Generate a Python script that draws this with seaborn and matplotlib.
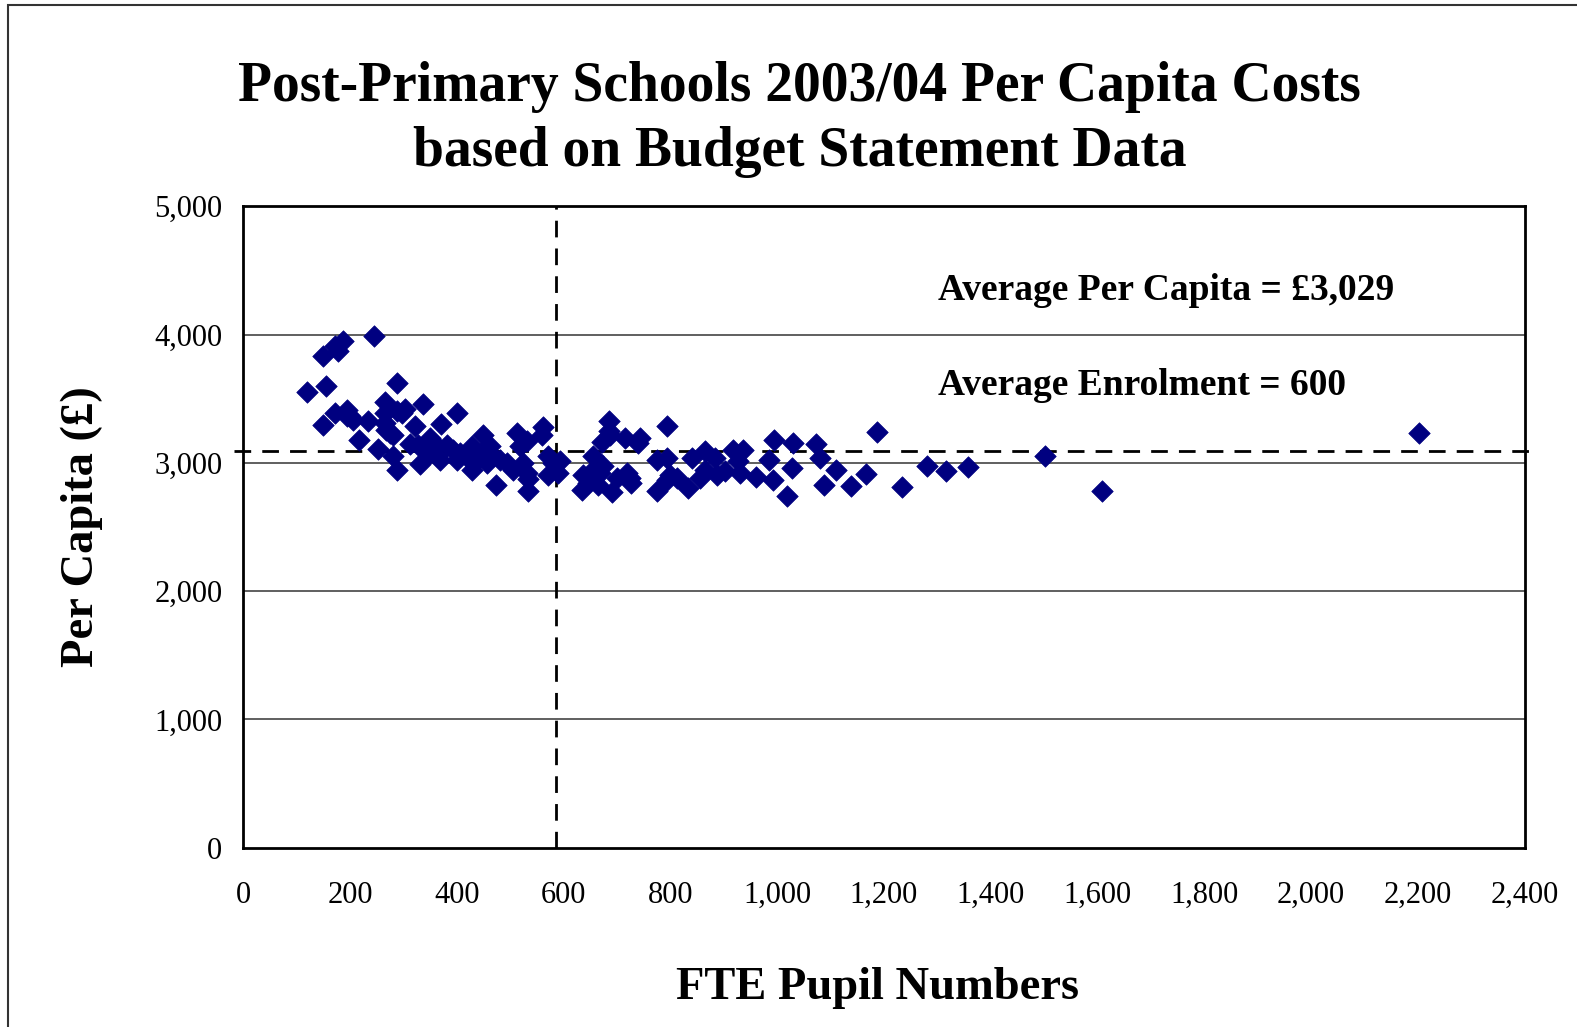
"""Post-primary schools per capita cost scatter, redrawn with seaborn."""

import matplotlib

matplotlib.use("Agg")
import matplotlib.pyplot as plt
import pandas as pd
import seaborn as sns
from matplotlib.patches import Rectangle
from matplotlib.ticker import FuncFormatter, MultipleLocator

# FTE pupil numbers and per capita cost (GBP) per school
pupils = [
    119, 150, 154, 150, 172, 178, 187, 245, 172, 194, 200, 206, 194, 217,
    234, 253, 265, 265, 265, 268, 275, 281, 281, 287, 287, 287, 297, 303,
    321, 336, 312, 328, 331, 350, 356, 362, 371, 350, 362, 368, 381, 393,
    400, 401, 406, 418, 428, 428, 437, 449, 446, 456, 462, 468, 474, 481,
    493, 506, 512, 518, 531, 524, 531, 534, 533, 559, 562, 571, 580, 571,
    590, 593, 684, 684, 687, 671, 715, 743, 740, 793, 655, 637, 649, 655,
    668, 674, 646, 665, 634, 690, 699, 718, 724, 727, 774, 793, 799, 793,
    812, 774, 832, 840, 865, 883, 865, 855, 887, 902, 918, 936, 927, 930,
    961, 985, 993, 994, 1018, 1030, 1028, 1073, 1080, 1088, 1111, 1138,
    1166, 1186, 1233, 1280, 1317, 1358, 1501, 1609, 2202,
]
per_capita = [
    3550, 3831, 3597, 3298, 3909, 3870, 3948, 3992, 3389, 3415, 3363, 3337,
    3363, 3176, 3324, 3108, 3472, 3389, 3311, 3259, 3233, 3220, 3051, 2941,
    3623, 3402, 3389, 3420, 3285, 3462, 3150, 3142, 2994, 3194, 3155, 3129,
    3306, 3077, 3051, 3025, 3142, 3103, 3025, 3389, 3077, 3051, 3129, 2947,
    3025, 3220, 3077, 2999, 3129, 3051, 2830, 3025, 2999, 2947, 3233, 3129,
    3168, 2999, 2921, 2874, 2778, 3220, 3280, 3051, 2999, 2908, 2921, 3012,
    3324, 3246, 3220, 3160, 3194, 3194, 3155, 3285, 3051, 2908, 2895, 2947,
    2921, 2973, 2843, 2830, 2791, 2770, 2882, 2921, 2882, 2843, 3025, 3038,
    2908, 2869, 2882, 2778, 2804, 3038, 3090, 3038, 2947, 2882, 2908, 2934,
    3103, 3103, 3012, 2921, 2887, 3025, 2869, 3181, 2739, 3155, 2960, 3147,
    3038, 2830, 2947, 2817, 2916, 3238, 2809, 2973, 2934, 2965, 3051, 2781,
    3233,
]

# reference lines as drawn on the chart
mean_enrolment_line = 585
mean_cost_line = 3095
notes = ["Average Per Capita = £3,029", "Average Enrolment = 600"]
note_pos = [(1301, 4340), (1301, 3605)]

df = pd.DataFrame({"pupils": pupils, "per_capita": per_capita})

sns.set_style("white")
plt.rcParams["font.family"] = ["Liberation Serif", "DejaVu Serif"]
plt.rcParams["text.color"] = "black"
plt.rcParams["axes.labelcolor"] = "black"
plt.rcParams["xtick.color"] = "black"
plt.rcParams["ytick.color"] = "black"

fig = plt.figure(figsize=(15.77, 10.27), dpi=100)
ax = fig.add_axes([0.1543, 0.1745, 0.9668 - 0.1543, 0.7992 - 0.1745])

# outer chart border
fig.patches.append(
    Rectangle(
        (8 / 1577, -0.05), 1.1, 1 - 5 / 1027 + 0.05,
        transform=fig.transFigure, fill=False, edgecolor="#333333",
        linewidth=1.5, clip_on=False,
    )
)

for val in [1000, 2000, 3000, 4000]:
    ax.axhline(val, color="#444444", linewidth=1.2, zorder=0)

sns.scatterplot(
    data=df, x="pupils", y="per_capita", marker="D", s=120,
    color="#000080", edgecolor="#000080", linewidth=0.5, ax=ax, zorder=3,
)

ax.axvline(mean_enrolment_line, color="black", linewidth=2, dashes=(6, 4), zorder=2)
ax.plot(
    [-18, 2410], [mean_cost_line, mean_cost_line], color="black", linewidth=2,
    dashes=(6, 4), clip_on=False, zorder=2,
)

for text, (tx, ty) in zip(notes, note_pos):
    ax.text(tx, ty, text, fontsize=27, fontweight="bold", va="center", ha="left")

ax.set_xlim(0, 2400)
ax.set_ylim(0, 5000)
ax.xaxis.set_major_locator(MultipleLocator(200))
ax.yaxis.set_major_locator(MultipleLocator(1000))
comma = FuncFormatter(lambda v, _: f"{v:,.0f}")
ax.xaxis.set_major_formatter(comma)
ax.yaxis.set_major_formatter(comma)
ax.tick_params(axis="both", which="major", direction="out", length=7,
               width=1.3, color="black", labelsize=22)
ax.tick_params(axis="x", pad=17)
ax.tick_params(axis="y", pad=8)

for spine in ax.spines.values():
    spine.set_color("black")
    spine.set_linewidth(2)

ax.set_xlabel("FTE Pupil Numbers", fontsize=33.5, fontweight="bold", labelpad=41)
ax.xaxis.label.set_x(0.495)
ax.set_ylabel("Per Capita (£)", fontsize=33.5, fontweight="bold", labelpad=37)

fig.suptitle(
    "Post-Primary Schools 2003/04 Per Capita Costs\nbased on Budget Statement Data",
    fontsize=40, fontweight="bold", x=0.507, y=0.941, linespacing=1.34,
)

fig.savefig("out.png", dpi=100)
plt.close(fig)
